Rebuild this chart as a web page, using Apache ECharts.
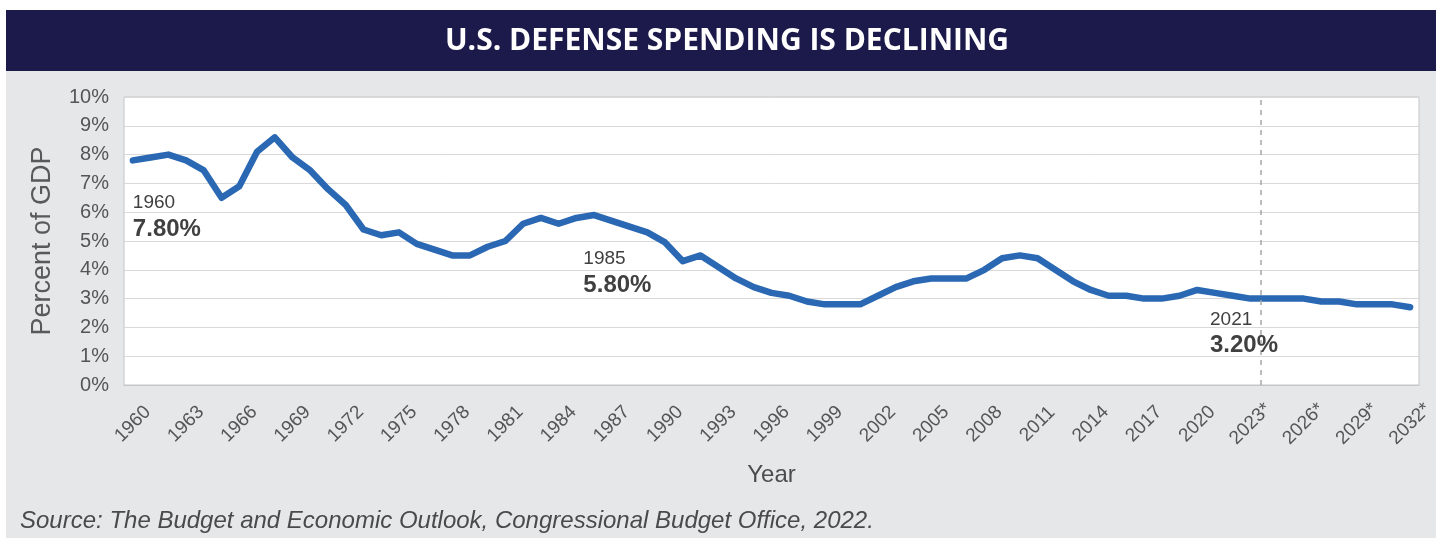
<!DOCTYPE html>
<html>
<head>
<meta charset="utf-8">
<script src="https://cdn.jsdelivr.net/npm/echarts@6/dist/echarts.min.js"></script>
<style>
html, body { margin: 0; padding: 0; background: #fff; }
#box { width: 1441px; height: 538px; }
</style>
</head>
<body>
<div id="box"></div>
<script>
var years = [];
for (var y = 1960; y <= 2032; y++) {
	years.push(y > 2022 ? y + '*' : String(y));
}
var spending = [
	7.8, 7.9, 8.0, 7.8, 7.45, 6.5, 6.9, 8.1, 8.6, 7.9,
	7.45, 6.8, 6.25, 5.4, 5.2, 5.3, 4.9, 4.7, 4.5, 4.5,
	4.8, 5.0, 5.6, 5.8, 5.6, 5.8, 5.9, 5.7, 5.5, 5.3,
	4.95, 4.3, 4.5, 4.1, 3.7, 3.4, 3.2, 3.1, 2.9, 2.8,
	2.8, 2.8, 3.1, 3.4, 3.6, 3.7, 3.7, 3.7, 4.0, 4.4,
	4.5, 4.4, 4.0, 3.6, 3.3, 3.1, 3.1, 3.0, 3.0, 3.1,
	3.3, 3.2, 3.1, 3.0, 3.0, 3.0, 3.0, 2.9, 2.9, 2.8,
	2.8, 2.8, 2.7
];
var calloutYears = ['1960', '1985', '2021'];
var calloutValues = [7.8, 5.8, 3.2];
var calloutOffsets = [[0, 30], [7, 28], [-5, 14]];
var yTicks = [0, 1, 2, 3, 4, 5, 6, 7, 8, 9, 10];
var projectionAfter = '2023*';

var myChart = echarts.init(document.getElementById('box'));

var callouts = [];
for (var i = 0; i < calloutYears.length; i++) {
	callouts.push({
		coord: [calloutYears[i], calloutValues[i]],
		label: {
			offset: calloutOffsets[i],
			formatter: '{y|' + calloutYears[i] + '}\n{v|' + calloutValues[i].toFixed(2) + '%}'
		}
	});
}

var option = {
	backgroundColor: '#ffffff',
	textStyle: { fontFamily: 'Liberation Sans' },
	graphic: [
		{ type: 'rect', z: -10, shape: { x: 6, y: 10, width: 1430, height: 528 }, style: { fill: '#e6e7e9' } },
		{ type: 'rect', z: -9, shape: { x: 6, y: 10, width: 1430, height: 61 }, style: { fill: '#1c1a4a' } },
		{
			type: 'text', z: 5, x: 727, y: 41,
			style: {
				text: 'U.S. DEFENSE SPENDING IS DECLINING',
				fill: '#ffffff',
				font: 'bold 30px "Open Sans"',
				align: 'center',
				verticalAlign: 'middle'
			}
		},
		{
			type: 'text', z: 5, x: 20, y: 521,
			style: {
				text: 'Source: The Budget and Economic Outlook, Congressional Budget Office, 2022.',
				fill: '#4a4a4a',
				font: 'italic 24px "Liberation Sans"',
				verticalAlign: 'middle'
			}
		}
	],
	grid: {
		show: true,
		left: 124,
		top: 97,
		right: 22,
		bottom: 153,
		backgroundColor: '#ffffff',
		borderColor: '#c6c6c6',
		borderWidth: 1
	},
	xAxis: [{
		type: 'category',
		data: years,
		boundaryGap: true,
		name: 'Year',
		nameLocation: 'middle',
		nameGap: 78,
		nameTextStyle: { fontSize: 24, color: '#4d4d4d' },
		axisLine: { show: true, lineStyle: { color: '#c6c6c6' } },
		axisTick: { show: false },
		axisLabel: {
			interval: 2,
			rotate: 45,
			align: 'center',
			verticalAlign: 'middle',
			margin: 39,
			fontSize: 19,
			color: '#555555'
		},
		splitLine: { show: false }
	}, {
		type: 'value',
		show: false,
		min: -0.5,
		max: years.length - 0.5
	}],
	yAxis: {
		type: 'value',
		min: yTicks[0],
		max: yTicks[yTicks.length - 1],
		interval: 1,
		name: 'Percent of GDP',
		nameLocation: 'middle',
		nameGap: 68,
		nameTextStyle: { fontSize: 27, color: '#595959' },
		axisLine: { show: false },
		axisTick: { show: false },
		axisLabel: {
			formatter: '{value}%',
			fontSize: 20,
			margin: 15,
			color: '#555555'
		},
		splitLine: { lineStyle: { color: '#d9d9d9', width: 1 } }
	},
	series: [{
		name: 'Defense spending',
		type: 'line',
		data: spending,
		symbol: 'none',
		lineStyle: { color: '#2a68b4', width: 6.5, cap: 'round', join: 'round' },
		itemStyle: { color: '#2a68b4' },
		z: 3,
		markPoint: {
			symbol: 'circle',
			symbolSize: 0,
			silent: true,
			label: {
				show: true,
				position: 'inside',
				align: 'left',
				verticalAlign: 'top',
				rich: {
					y: { fontSize: 19, lineHeight: 25, color: '#404040' },
					v: { fontSize: 24, lineHeight: 28, fontWeight: 'bold', color: '#404040' }
				}
			},
			data: callouts
		}
	}, {
		name: 'divider',
		type: 'line',
		xAxisIndex: 1,
		data: [],
		markLine: {
			silent: true,
			symbol: 'none',
			label: { show: false },
			lineStyle: { type: [5, 5], color: '#a6a6a6', width: 1.5 },
			data: [{ xAxis: years.indexOf(projectionAfter) + 0.6 }]
		}
	}]
};

myChart.clear();
myChart.setOption(option);
</script>
</body>
</html>
